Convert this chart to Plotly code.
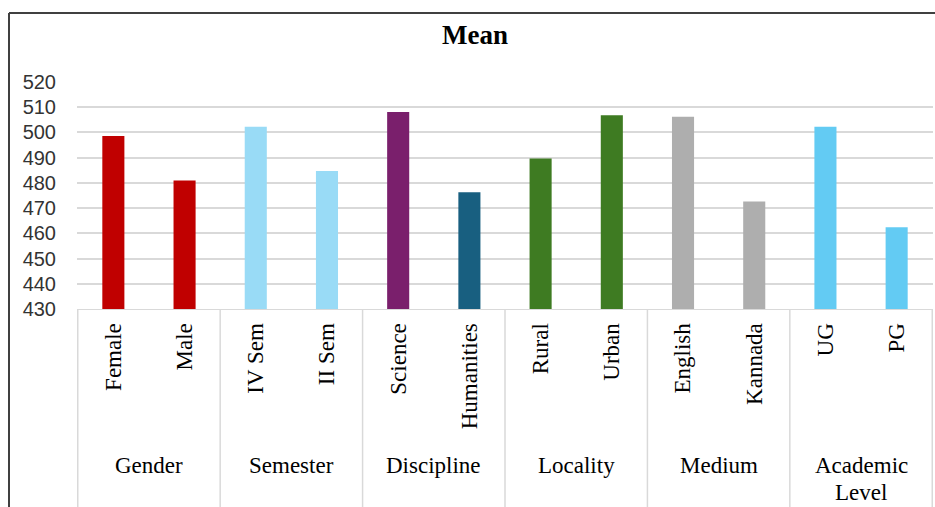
import plotly.graph_objects as go

categories = ["Female", "Male", "IV Sem", "II Sem", "Science", "Humanities",
              "Rural", "Urban", "English", "Kannada", "UG", "PG"]
means = [498.6, 480.9, 502.3, 484.7, 508.1, 476.3,
         489.7, 506.8, 506.2, 472.6, 502.3, 462.4]
bar_colors = ["#C00000", "#C00000", "#99DBF6", "#99DBF6", "#7A1F6C", "#185F80",
              "#3E7B22", "#3E7B22", "#AEAEAE", "#AEAEAE", "#63CBF3", "#63CBF3"]
groups = [["Gender"], ["Semester"], ["Discipline"], ["Locality"], ["Medium"], ["Academic", "Level"]]
y_ticks = [430, 440, 450, 460, 470, 480, 490, 500, 510, 520]

W, H = 935, 507
L, R, T, B = 77, 2, 82, 198
plot_h = H - T - B
plot_w = W - L - R

fig = go.Figure(go.Bar(
    x=categories, y=means, marker=dict(color=bar_colors, line=dict(width=0)),
    width=0.31, hoverinfo="x+y",
))

serif = "Liberation Serif, Times New Roman, serif"

fig.update_layout(
    width=W, height=H,
    margin=dict(l=L, r=R, t=T, b=B),
    paper_bgcolor="white", plot_bgcolor="white",
    showlegend=False,
    title=dict(text="<b>Mean</b>", x=475 / W, xanchor="center",
               y=1 - 35 / H, yanchor="middle",
               font=dict(family=serif, size=27, color="#000000")),
    xaxis=dict(
        type="category", tickangle=-90,
        tickfont=dict(family=serif, size=23, color="#000000"),
        showgrid=False, showline=True, linecolor="#D9D9D9", linewidth=1,
        ticks="", ticklabelstandoff=4, fixedrange=True,
    ),
    yaxis=dict(
        range=[430, 520], tickvals=y_ticks,
        tickfont=dict(family="Liberation Sans, Arial, sans-serif", size=20, color="#333333"),
        showgrid=True, gridcolor="#D9D9D9", gridwidth=1.5,
        zeroline=False, showline=False, ticks="", ticklabelstandoff=20,
    ),
)

# group dividers and labels
for i in range(len(groups) + 1):
    fig.add_shape(type="line", xref="x", yref="paper",
                  x0=2 * i - 0.5, x1=2 * i - 0.5, y0=0, y1=-(B + 5) / plot_h,
                  line=dict(color="#D9D9D9", width=1.5))
for i, lines in enumerate(groups):
    for j, g in enumerate(lines):
        cy = 465 + 27 * j
        fig.add_annotation(xref="x", yref="paper", x=2 * i + 0.5,
                           y=-(cy - (T + plot_h)) / plot_h,
                           yanchor="middle", xanchor="center", text=g, showarrow=False,
                           font=dict(family=serif, size=23, color="#000000"))

# outer frame (top and left edges)
fx = (9 - L) / plot_w
fy = (T + plot_h - 13) / plot_h
fig.add_shape(type="line", xref="paper", yref="paper", x0=fx, x1=(W + 5 - L) / plot_w,
              y0=fy, y1=fy, line=dict(color="#404040", width=2))
fig.add_shape(type="line", xref="paper", yref="paper", x0=fx, x1=fx,
              y0=fy, y1=-(B + 5) / plot_h, line=dict(color="#404040", width=2))

fig.write_html("out.html")
